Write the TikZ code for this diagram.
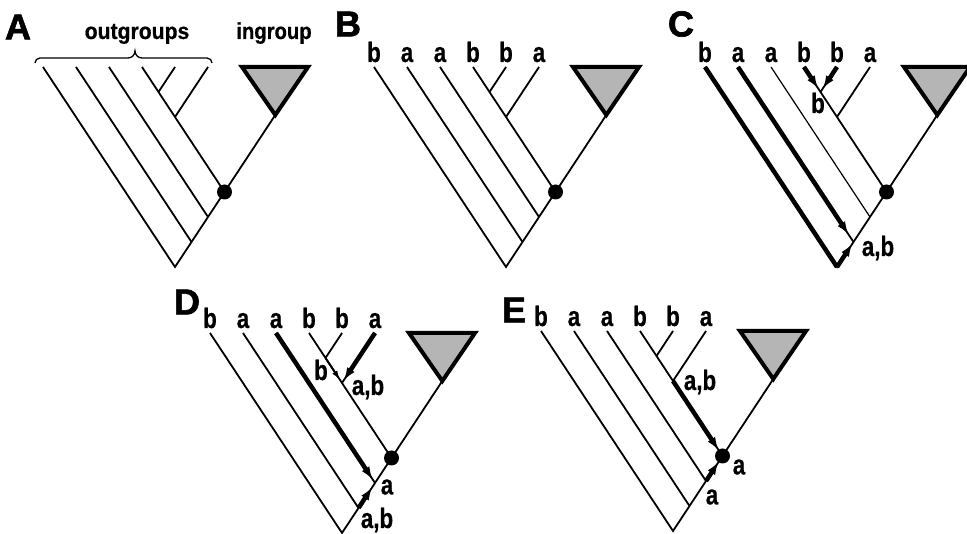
\documentclass[tikz,border=0pt]{standalone}
\usepackage{fontspec}
\setmainfont{Liberation Sans}
\newfontfamily\heavyfont[FakeBold=1.8]{Liberation Sans Bold}
\newfontfamily\labfont[FakeBold=0.6]{Liberation Sans Bold}
\usetikzlibrary{arrows.meta}
\newcommand\cn[1]{\scalebox{0.8}[1]{#1}}
\newcommand\treecoords[1]{%
  \coordinate (#1-R) at (0,0);
  \coordinate (#1-L1) at (-132,200);
  \coordinate (#1-L2) at (-99,200);
  \coordinate (#1-L3) at (-66,200);
  \coordinate (#1-L4) at (-33,200);
  \coordinate (#1-L5) at (0,200);
  \coordinate (#1-L6) at (33,200);
  \coordinate (#1-J2) at (16.5,25);
  \coordinate (#1-J3) at (33,50);
  \coordinate (#1-J4) at (49.5,75);
  \coordinate (#1-J5) at (-16.5,175);
  \coordinate (#1-J6) at (0,150);
  \coordinate (#1-T) at (100.3,152);
  \coordinate (#1-TL) at (67,200);
  \coordinate (#1-TR) at (133,200);
}
\newcommand\basetree[1]{%
  \draw[thin line] (#1-L1) -- (#1-R) -- (#1-T);
  \draw[thin line] (#1-L2) -- (#1-J2);
  \draw[thin line] (#1-L4) -- (#1-J4);
  \draw[thin line] (#1-L5) -- (#1-J5);
  \draw[thin line] (#1-L6) -- (#1-J6);
  \draw[ingroup] (#1-T) -- (#1-TL) -- (#1-TR) -- cycle;
  \node[dot] (#1-dot) at (#1-J4) {};
}
\newcommand\toplabels[1]{%
  \node[lab] (#1-t1) at ([yshift=5]#1-L1) {\cn{b}};
  \node[lab] (#1-t2) at ([yshift=5]#1-L2) {\cn{a}};
  \node[lab] (#1-t3) at ([yshift=5]#1-L3) {\cn{a}};
  \node[lab] (#1-t4) at ([yshift=5]#1-L4) {\cn{b}};
  \node[lab] (#1-t5) at ([yshift=5]#1-L5) {\cn{b}};
  \node[lab] (#1-t6) at ([yshift=5]#1-L6) {\cn{a}};
}
\begin{document}
\begin{tikzpicture}[x=1pt,y=1pt,
  thin line/.style={line width=1.8pt},
  finer/.style={line width=1.2pt},
  thick line/.style={line width=4.5pt},
  arr/.style={thick line,-{Latex[length=13pt,width=9pt]}},
  smallarr/.style={thin line,-{Latex[length=9pt,width=6pt]}},
  ingroup/.style={line width=4pt,line join=miter,fill=gray!58,draw=black},
  dot/.style={circle,fill=black,minimum size=15pt,inner sep=0pt},
  lab/.style={font=\fontsize{28}{28}\labfont,anchor=base,inner sep=0pt},
  mlab/.style={font=\fontsize{28}{28}\labfont,inner sep=0pt},
  word/.style={font=\fontsize{23}{23}\labfont,anchor=base,inner sep=0pt},
  panel/.style={font=\fontsize{36}{36}\heavyfont,inner sep=0pt},
  brace/.style={line width=1.3pt}]
\useasboundingbox (0,0) rectangle (967,534);

% ---------- A ----------
\begin{scope}[shift={(175,267)}]
  \treecoords{A}
  \draw[thin line] (A-L3) -- (A-J3);
  \basetree{A}
  \node[panel] (A-name) at (-157,240) {A};
  \draw[brace] (-140,204) to[out=90,in=180] (-135,209) -- (-47,209)
     to[out=0,in=-90] (-40,216) to[out=-90,in=180] (-33,209) -- (32,209)
     to[out=0,in=90] (37,204);
  \node[word] (A-out) at (-38,228) {\scalebox{0.92}[1]{outgroups}};
  \node[word] (A-in) at (99,228) {\scalebox{0.88}[1]{ingroup}};
\end{scope}

% ---------- B ----------
\begin{scope}[shift={(506,267)}]
  \treecoords{B}
  \draw[thin line] (B-L3) -- (B-J3);
  \basetree{B}
  \node[panel] (B-name) at (-158,243) {B};
  \toplabels{B}
\end{scope}

% ---------- C ----------
\begin{scope}[shift={(837,267)}]
  \treecoords{C}
  \draw[finer] (C-L3) -- (C-J3);
  \basetree{C}
  \node[panel] (C-name) at (-156,243) {C};
  \toplabels{C}
  \draw[thick line,line join=miter] (C-L1) -- (C-R);
  \draw[arr,shorten >=2pt] (C-R) -- (C-J2);
  \draw[arr,shorten >=9pt] (C-L2) -- (C-J2);
  \draw[arr,shorten >=4pt] (C-L4) -- (C-J5);
  \draw[arr,shorten >=4pt] (C-L5) -- (C-J5);
  \node[mlab] (C-m1) at (-19,164) {\cn{b}};
  \node[mlab] (C-m2) at (41,19) {\cn{a,b}};
\end{scope}

% ---------- D ----------
\begin{scope}[shift={(342,1)}]
  \treecoords{D}
  \draw[thin line] (D-L3) -- (D-J3);
  \basetree{D}
  \node[panel] (D-name) at (-155,231) {D};
  \toplabels{D}
  \draw[arr,shorten >=4pt] (D-L3) -- (D-J3);
  \draw[arr,shorten >=5pt] (D-J2) -- (D-J3);
  \draw[arr,shorten >=3pt] (D-L6) -- (D-J6);
  \draw[smallarr,shorten >=4pt] (D-J5) -- (D-J6);
  \node[mlab] (D-m1) at (-21,163) {\cn{b}};
  \node[mlab] (D-m2) at (26,146) {\cn{a,b}};
  \node[mlab] (D-m3) at (45,46) {\cn{a}};
  \node[mlab] (D-m4) at (35,13) {\cn{a,b}};
\end{scope}

% ---------- E ----------
\begin{scope}[shift={(673,3)}]
  \treecoords{E}
  \draw[thin line] (E-L3) -- (E-J3);
  \basetree{E}
  \node[panel] (E-name) at (-159,221) {E};
  \toplabels{E}
  \draw[arr,shorten >=7pt] (E-J6) -- (E-J4);
  \draw[arr,shorten >=7pt] (E-J3) -- (E-J4);
  \node[mlab] (E-m1) at (27,149) {\cn{a,b}};
  \node[mlab] (E-m2) at (66,64) {\cn{a}};
  \node[mlab] (E-m3) at (39,34) {\cn{a}};
\end{scope}
\end{tikzpicture}
\end{document}
